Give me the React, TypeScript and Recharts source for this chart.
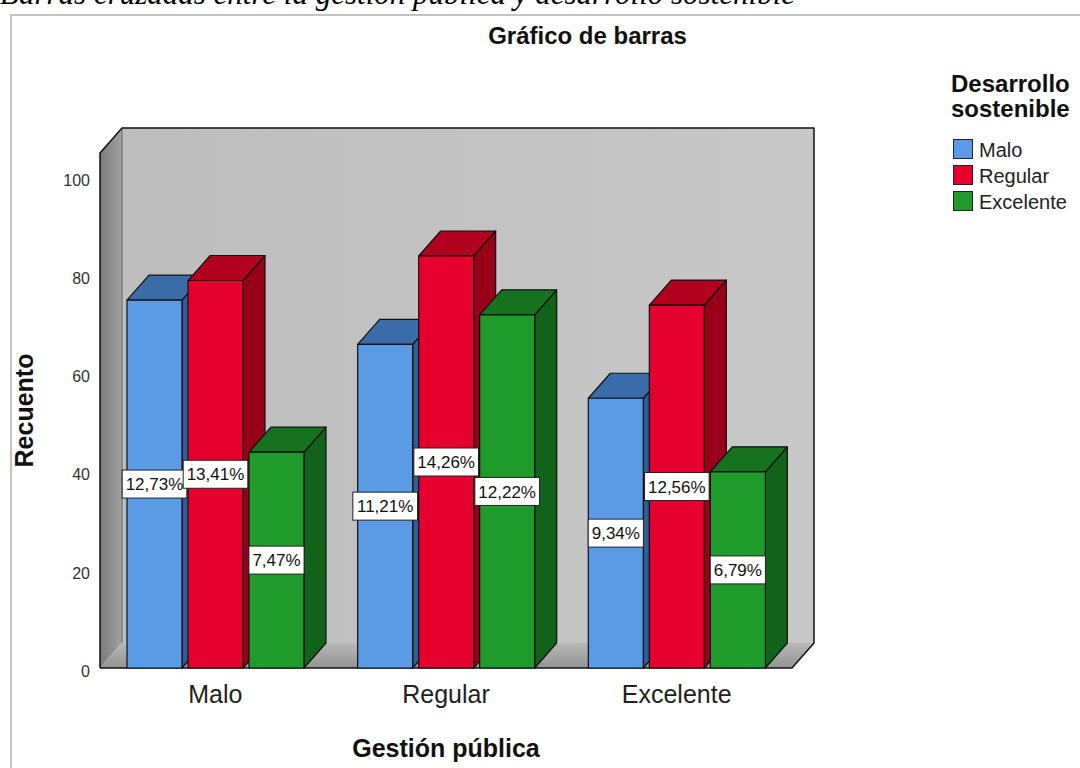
import React from 'react';
import { BarChart, Bar, XAxis, YAxis, ReferenceArea, LabelList, Legend } from 'recharts';

const categories = ['Malo', 'Regular', 'Excelente'];
const seriesNames = ['Malo', 'Regular', 'Excelente'];

// recuento por nivel de desarrollo sostenible
const maloCounts = [75, 66, 55];
const regularCounts = [79, 84, 74];
const excelenteCounts = [44, 72, 40];

// porcentaje del total
const maloPct = ['12,73%', '11,21%', '9,34%'];
const regularPct = ['13,41%', '14,26%', '12,56%'];
const excelentePct = ['7,47%', '12,22%', '6,79%'];

const yTicks = [0, 20, 40, 60, 80, 100];

const data = categories.map((cat, i) => ({
    cat,
    malo: maloCounts[i],
    regular: regularCounts[i],
    excelente: excelenteCounts[i],
    pMalo: maloPct[i],
    pRegular: regularPct[i],
    pExcelente: excelentePct[i],
}));

const FONT = '"Liberation Sans", Arial, sans-serif';
const DX = 22;
const DY = -25;

const PALETTE = [
    { front: '#5b9be6', top: '#3b6caa', side: '#2f5e98' },
    { front: '#e6002e', top: '#b2001f', side: '#98001a' },
    { front: '#1f9b2c', top: '#17721f', side: '#12621a' },
];

const make3DBar = (c: { front: string; top: string; side: string }) => (props: any) => {
    const { x, y, width: w, height: h } = props;
    if (w == null || h == null || h <= 0) return <g />;
    const s = { stroke: '#111', strokeWidth: 1.2, strokeLinejoin: 'round' as const };
    return (
        <g>
            <polygon
                points={`${x + w},${y} ${x + w + DX},${y + DY} ${x + w + DX},${y + h + DY} ${x + w},${y + h}`}
                fill={c.side}
                {...s}
            />
            <polygon
                points={`${x},${y} ${x + DX},${y + DY} ${x + w + DX},${y + DY} ${x + w},${y}`}
                fill={c.top}
                {...s}
            />
            <rect x={x} y={y} width={w} height={h} fill={c.front} {...s} />
        </g>
    );
};

const charW = (ch: string) => (ch === ',' ? 0.278 : ch === '%' ? 0.889 : 0.556);

const PctLabel = (props: any) => {
    const vb = props.viewBox || props;
    const x = vb.x ?? props.x;
    const y = vb.y ?? props.y;
    const width = vb.width ?? props.width;
    const height = vb.height ?? props.height;
    const value = String(props.value ?? '');
    const fs = 17;
    const tw = value.split('').reduce((a, ch) => a + charW(ch), 0) * fs;
    const bw = tw + 7;
    const bh = 28;
    const cx = x + width / 2;
    const cy = y + height / 2;
    return (
        <g>
            <rect x={cx - bw / 2} y={cy - bh / 2} width={bw} height={bh} fill="#fff" stroke="#222" strokeWidth={1} />
            <text x={cx} y={cy} dy="0.36em" textAnchor="middle" fontFamily={FONT} fontSize={fs} fill="#111">
                {value}
            </text>
        </g>
    );
};

const Walls = (props: any) => {
    const { x, y, width: w, height: h } = props;
    return (
        <g>
            <defs>
                <linearGradient id="backWall" x1="0" y1="0" x2="1" y2="0">
                    <stop offset="0%" stopColor="#bdbdbd" />
                    <stop offset="100%" stopColor="#c8c8c8" />
                </linearGradient>
                <linearGradient id="sideWall" x1="0" y1="0" x2="1" y2="0">
                    <stop offset="0%" stopColor="#7a7a7a" />
                    <stop offset="100%" stopColor="#a2a2a2" />
                </linearGradient>
                <linearGradient id="floorGrad" x1="0" y1="0" x2="0" y2="1">
                    <stop offset="0%" stopColor="#b8b8b8" />
                    <stop offset="100%" stopColor="#939393" />
                </linearGradient>
            </defs>
            <rect x={x + DX} y={y + DY} width={w} height={h} fill="url(#backWall)" />
            <polygon
                points={`${x},${y} ${x + DX},${y + DY} ${x + DX},${y + h + DY} ${x},${y + h}`}
                fill="url(#sideWall)"
            />
            <polygon
                points={`${x},${y + h} ${x + DX},${y + h + DY} ${x + w + DX},${y + h + DY} ${x + w},${y + h}`}
                fill="url(#floorGrad)"
            />
            <line x1={x + DX} y1={y + DY} x2={x + DX} y2={y + h + DY} stroke="#666" strokeWidth={1} />
            <polyline
                points={`${x},${y + h} ${x},${y} ${x + DX},${y + DY} ${x + w + DX},${y + DY} ${x + w + DX},${y + h + DY} ${x + w},${y + h} ${x},${y + h}`}
                fill="none"
                stroke="#111"
                strokeWidth={1.5}
                strokeLinejoin="round"
            />
        </g>
    );
};

const LegendBox = (props: any) => {
    const payload = [...(props.payload || [])].sort(
        (a: any, b: any) => seriesNames.indexOf(a.value) - seriesNames.indexOf(b.value)
    );
    return (
        <div style={{ fontFamily: FONT, color: '#111' }}>
            <div style={{ fontSize: 24, fontWeight: 'bold', lineHeight: '25px' }}>
                Desarrollo
                <br />
                sostenible
            </div>
            <div style={{ marginTop: 18 }}>
                {payload.map((p: any) => (
                    <div key={p.value} style={{ display: 'flex', alignItems: 'flex-start', height: 26 }}>
                        <span
                            style={{
                                width: 18,
                                height: 18,
                                background: p.color,
                                border: '1px solid #222',
                                marginLeft: 2,
                                marginRight: 6,
                            }}
                        />
                        <span style={{ fontSize: 20, lineHeight: '22px', color: '#222' }}>{p.value}</span>
                    </div>
                ))}
            </div>
        </div>
    );
};

export default function App() {
    const keys = ['malo', 'regular', 'excelente'];
    const pctKeys = ['pMalo', 'pRegular', 'pExcelente'];
    return (
        <div style={{ position: 'absolute', left: 0, top: 0, width: 1080, height: 768, overflow: 'hidden', background: '#fff' }}>
            <div
                style={{
                    position: 'absolute',
                    left: 0,
                    top: -23,
                    fontFamily: '"Liberation Serif", "Times New Roman", serif',
                    fontStyle: 'italic',
                    fontSize: 31,
                    lineHeight: '34px',
                    whiteSpace: 'nowrap',
                    color: '#000',
                }}
            >
                Barras cruzadas entre la gestión pública y desarrollo sostenible
            </div>
            <div
                style={{
                    position: 'absolute',
                    left: 10,
                    top: 14,
                    width: 1100,
                    height: 800,
                    border: '2px solid #c4c4c4',
                }}
            />
            <div
                style={{
                    position: 'absolute',
                    left: 0,
                    top: 22,
                    width: 1175,
                    textAlign: 'center',
                    fontFamily: FONT,
                    fontWeight: 'bold',
                    fontSize: 24,
                    color: '#111',
                }}
            >
                Gráfico de barras
            </div>
            <div style={{ position: 'absolute', left: 0, top: 0 }}>
                <BarChart
                    width={1080}
                    height={768}
                    data={data}
                    margin={{ top: 153, right: 288, bottom: 0, left: 20 }}
                    barSize={55}
                    barGap={6}
                >
                    <ReferenceArea y1={0} y2={105} shape={Walls} ifOverflow="visible" />
                    <XAxis
                        dataKey="cat"
                        height={100}
                        axisLine={false}
                        tickLine={false}
                        tickMargin={11}
                        tick={{ fontFamily: FONT, fontSize: 25, fill: '#222' }}
                        label={{
                            value: 'Gestión pública',
                            position: 'insideBottom',
                            offset: 11,
                            style: { fontFamily: FONT, fontSize: 25, fontWeight: 'bold', fill: '#111' },
                        }}
                    />
                    <YAxis
                        width={80}
                        domain={[0, 105]}
                        ticks={yTicks}
                        interval={0}
                        axisLine={false}
                        tickLine={false}
                        tickMargin={4}
                        tick={{ fontFamily: FONT, fontSize: 16, fill: '#333', dy: 3 }}
                        label={{
                            value: 'Recuento',
                            angle: -90,
                            position: 'insideLeft',
                            offset: 4,
                            style: { textAnchor: 'middle', fontFamily: FONT, fontSize: 25, fontWeight: 'bold', fill: '#111' },
                        }}
                    />
                    <Legend
                        layout="vertical"
                        align="center"
                        verticalAlign="middle"
                        content={LegendBox}
                        wrapperStyle={{ left: 951, top: 71, width: 130, height: 200 }}
                    />
                    {keys.map((k, i) => (
                        <Bar
                            key={k}
                            dataKey={k}
                            name={seriesNames[i]}
                            fill={PALETTE[i].front}
                            shape={make3DBar(PALETTE[i])}
                            isAnimationActive={false}
                        >
                            <LabelList dataKey={pctKeys[i]} content={PctLabel} />
                        </Bar>
                    ))}
                </BarChart>
            </div>
        </div>
    );
}
